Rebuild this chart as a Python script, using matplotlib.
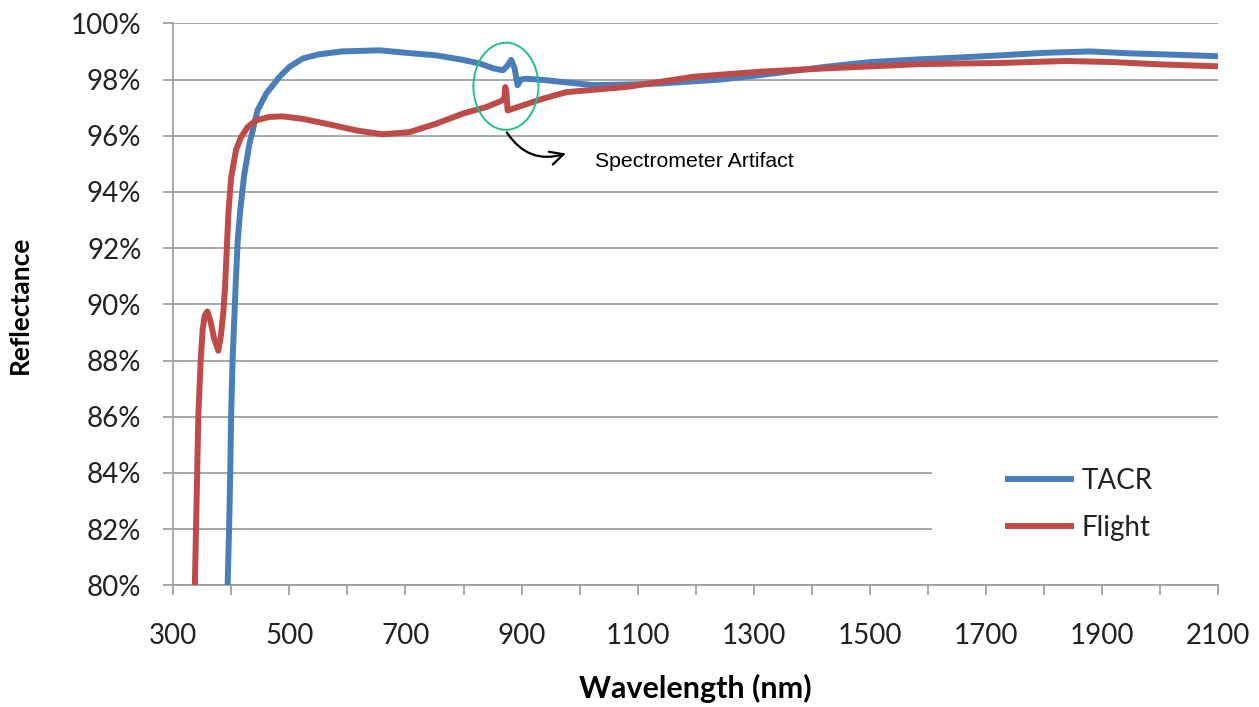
import matplotlib
matplotlib.use("Agg")
import matplotlib.pyplot as plt
from matplotlib.patches import Ellipse, Rectangle
from matplotlib.ticker import MultipleLocator, FuncFormatter

# ---- data ----
tacr_wl = [393.5, 396, 398, 399.5, 402, 406, 408, 411, 415, 422, 431, 445, 460, 483,
           500, 523, 552, 591, 655, 707, 753, 799, 828, 851, 868, 876, 882, 888, 893,
           899, 908, 940, 967, 1024, 1080, 1139, 1243, 1312, 1427, 1500, 1587, 1650,
           1724, 1800, 1879, 1950, 2000, 2100]
tacr_refl = [80.0, 82.0, 84.0, 86.0, 88.0, 90.0, 91.0, 92.3, 93.3, 94.6, 95.7, 96.9, 97.5, 98.1,
             98.45, 98.75, 98.9, 99.0, 99.04, 98.94, 98.86, 98.7, 98.57, 98.4, 98.33, 98.5, 98.7, 98.4, 97.8,
             98.0, 98.03, 97.98, 97.92, 97.8, 97.82, 97.86, 98.0, 98.16, 98.46, 98.62, 98.72, 98.78,
             98.86, 98.95, 99.0, 98.93, 98.9, 98.83]

flight_wl = [337, 339, 341, 343, 347, 350.5, 354, 358.5, 364, 370, 377.5, 382, 386, 389,
             391, 395, 399.5, 408, 416.7, 428, 442.6, 465.5, 488, 523, 563, 615, 661, 707,
             753, 799, 839, 865, 870, 872, 874, 876, 902, 937, 977, 1082, 1197, 1312, 1427,
             1587, 1724, 1839, 1920, 2000, 2100]
flight_refl = [80.0, 82.0, 84.0, 86.0, 88.0, 89.1, 89.6, 89.75, 89.4, 88.8, 88.35, 88.9, 89.7, 90.6,
               91.5, 93.3, 94.5, 95.5, 95.95, 96.31, 96.55, 96.67, 96.69, 96.6, 96.43, 96.19, 96.05, 96.13,
               96.43, 96.79, 97.02, 97.24, 97.3, 97.73, 97.5, 96.9, 97.08, 97.32, 97.55, 97.74, 98.1, 98.28, 98.4,
               98.55, 98.59, 98.66, 98.62, 98.54, 98.47]

series_names = ["TACR", "Flight"]
x_ticks = [300, 500, 700, 900, 1100, 1300, 1500, 1700, 1900, 2100]
x_label = "Wavelength (nm)"
y_label = "Reflectance"
note_text = "Spectrometer Artifact"

# ---- style ----
plt.rcParams['font.family'] = ['Lato', 'DejaVu Sans']
BLUE = "#4A7EBB"
RED = "#BE4B48"
GRID = "#A0A0A0"
TXT = "#222222"

fig = plt.figure(figsize=(12.59, 7.07), dpi=100)
ax = fig.add_axes([0.1377, 0.172, 0.8297, 0.795])

ax.plot(tacr_wl, tacr_refl, color=BLUE, lw=4.3, solid_capstyle='butt', zorder=3, label=series_names[0])
ax.plot(flight_wl, flight_refl, color=RED, lw=4.3, solid_capstyle='butt', zorder=4, label=series_names[1])

ax.set_xlim(300, 2100)
ax.set_ylim(80, 100)
ax.set_xticks(x_ticks)
ax.xaxis.set_minor_locator(MultipleLocator(100))
ax.yaxis.set_major_locator(MultipleLocator(2))
ax.yaxis.set_major_formatter(FuncFormatter(lambda v, p: f"{v:.0f}%"))

ax.grid(axis='y', color=GRID, lw=1.3)
ax.set_axisbelow(True)
for s in ['top', 'right']:
    ax.spines[s].set_visible(False)
for s in ['left', 'bottom']:
    ax.spines[s].set_color(GRID)
    ax.spines[s].set_linewidth(1.3)

ax.tick_params(axis='y', which='major', length=7, width=1.3, color=GRID, labelsize=20, pad=16, labelcolor=TXT)
ax.tick_params(axis='x', which='both', length=7, width=1.3, color=GRID, direction='out')
ax.tick_params(axis='x', which='major', labelsize=20, pad=20, labelcolor=TXT)

ax.set_xlabel(x_label, fontsize=22, fontweight='bold', labelpad=18, color='black')
ax.set_ylabel(y_label, fontsize=19, fontweight='bold', labelpad=28, color='black')

# white box behind legend (covers gridlines)
ax.add_patch(Rectangle((0.726, 0.04), 0.28, 0.21, transform=ax.transAxes,
                       facecolor='white', edgecolor='none', zorder=1))
leg = ax.legend(loc='center left', bbox_to_anchor=(0.796, 0.144), frameon=False, fontsize=20,
                handlelength=2.5, handletextpad=0.25, labelspacing=0.75, borderpad=0, borderaxespad=0)
for t in leg.get_texts():
    t.set_color(TXT)

# annotation: ellipse + curved arrow + text
ax.add_patch(Ellipse((873, 97.76), 112, 3.1, facecolor='none', edgecolor='#22C08F', lw=1.4, zorder=5))
ax.annotate('', xy=(981, 95.4), xytext=(872, 96.2),
            arrowprops=dict(arrowstyle='->', connectionstyle='arc3,rad=0.4', color='black',
                            lw=1.6, mutation_scale=24), zorder=5)
ax.text(1026, 95.07, note_text, fontsize=15.3, family=['Liberation Sans', 'DejaVu Sans'],
        va='center', ha='left', color='black')

fig.savefig("out.png", dpi=100)
